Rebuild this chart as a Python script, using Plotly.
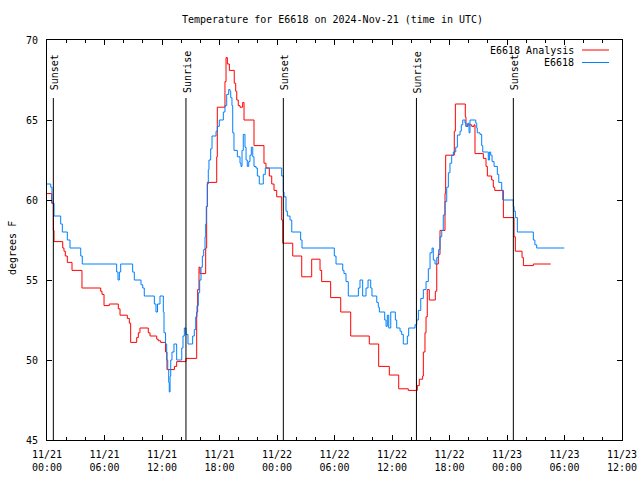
import pandas as pd
import plotly.graph_objects as go

# ---- data (hours since 2024-11-21 00:00 UTC, degrees F) ----
obs_hours = [0, 0.39, 0.52, 0.73, 1.43, 1.6, 2.12, 2.4, 3.52, 3.68,
             7.27, 7.41, 7.55, 7.69, 8.94, 9.11, 9.81, 9.99, 10.15, 11.2,
             11.37, 11.53, 11.79, 12.14, 12.21, 12.37, 12.49, 12.6, 12.7, 12.76,
             12.84, 12.91, 13.04, 13.25, 13.53, 14.06, 14.19, 14.33, 14.5, 14.71,
             15.2, 15.37, 15.52, 15.65, 15.79, 15.93, 16.07, 16.21, 16.35, 16.49,
             16.56, 16.62, 16.73, 16.83, 16.9, 17.08, 17.22, 17.64, 17.77, 17.98,
             18.4, 18.57, 18.75, 18.96, 19.1, 19.17, 19.3, 19.38, 19.51, 19.86,
             20.14, 20.24, 20.35, 20.48, 20.66, 20.77, 20.9, 21.05, 21.18, 21.32,
             21.47, 21.6, 21.81, 21.95, 22.15, 22.57, 22.78, 24.49, 24.66, 24.73,
             24.94, 25.08, 25.36, 25.54, 26.47, 26.61, 29.98, 30.16, 30.86, 30.99,
             31.2, 31.44, 32.49, 32.66, 32.94, 33.29, 33.5, 33.78, 33.91, 34.41,
             34.57, 34.68, 35.24, 35.38, 35.51, 35.66, 35.87, 36.35, 36.49, 36.84,
             37.01, 37.18, 37.6, 37.74, 38.4, 38.58, 38.75, 39.0, 39.27, 39.55,
             39.79, 39.97, 40.18, 40.31, 40.49, 40.67, 40.87, 41.01, 41.19, 41.35,
             41.53, 41.71, 41.88, 42.05, 42.23, 42.4, 42.65, 42.82, 43.1, 43.23,
             43.38, 43.62, 43.72, 43.9, 44.04, 44.14, 44.74, 44.84, 44.9, 45.18,
             45.36, 45.47, 45.95, 46.05, 46.16, 46.3, 46.44, 46.65, 46.99, 47.14,
             47.45, 47.55, 48.66, 48.73, 48.87, 49.08, 50.75, 50.91, 51.1, 53.98]
obs_temp = [61.0, 60.8, 59.8, 59.0, 58.5, 58.0, 57.5, 57.0, 56.5, 56.0,
            55.5, 55.0, 55.5, 56.0, 55.5, 55.0, 54.7, 54.5, 54.0, 53.5,
            53.0, 53.5, 54.0, 53.0, 51.7, 51.0, 50.0, 49.4, 48.6, 48.0,
            49.0, 50.0, 50.5, 51.0, 50.0, 50.75, 51.5, 52.0, 51.6, 51.0,
            51.5, 51.9, 52.7, 53.4, 54.2, 55.0, 55.8, 56.5, 56.9, 57.7,
            58.5, 59.6, 61.0, 61.9, 62.5, 63.2, 64.0, 64.3, 64.6, 65.0,
            65.5, 65.9, 66.6, 66.9, 66.8, 66.4, 65.9, 64.2, 63.1, 62.7,
            62.3, 62.1, 63.1, 64.1, 63.3, 62.5, 62.1, 62.4, 62.8, 63.3,
            62.7, 62.1, 62.0, 61.5, 61.0, 61.6, 62.0, 61.5, 60.5, 60.2,
            59.3, 59.0, 58.75, 58.0, 57.5, 57.0, 56.5, 56.0, 55.6, 55.4,
            54.9, 54.0, 54.5, 55.0, 54.0, 54.5, 55.0, 54.5, 54.0, 53.6,
            53.3, 53.0, 52.5, 52.1, 52.8, 52.0, 53.0, 52.5, 52.0, 51.8,
            51.6, 51.0, 51.5, 52.0, 52.2, 52.5, 53.1, 53.85, 54.4, 54.9,
            55.7, 56.7, 57.0, 56.25, 56.0, 56.4, 56.9, 57.7, 58.1, 59.06,
            59.9, 60.8, 61.7, 62.3, 62.8, 63.0, 63.3, 64.06, 64.3, 64.7,
            65.0, 64.8, 64.6, 64.8, 64.2, 65.0, 64.8, 64.5, 64.2, 64.1,
            63.4, 63.0, 63.0, 62.5, 63.0, 62.8, 62.4, 62.1, 61.6, 61.1,
            60.6, 60.0, 59.6, 59.3, 58.9, 58.0, 57.5, 57.2, 57.0, 57.0]

ana_hours = [0, 0.49, 0.66, 0.73, 1.64, 1.77, 1.91, 2.12, 2.61, 3.65,
             5.6, 5.74, 5.95, 6.5, 7.44, 7.62, 8.38, 8.59, 8.73, 9.36,
             9.53, 9.7, 10.57, 10.75, 11.45, 11.61, 11.86, 12.37, 12.52, 13.3,
             13.53, 14.5, 15.62, 15.72, 15.86, 15.97, 16.56, 16.66, 16.73, 17.71,
             17.77, 18.57, 18.68, 18.82, 19.03, 19.54, 19.69, 19.8, 19.96, 20.14,
             20.42, 20.56, 21.6, 22.64, 22.85, 23.2, 23.45, 23.69, 23.97, 24.49,
             24.6, 25.64, 26.58, 27.62, 28.49, 28.66, 29.6, 30.65, 31.69, 33.63,
             34.61, 35.72, 36.7, 37.7, 38.64, 38.85, 39.2, 39.27, 39.44, 39.55,
             39.68, 39.89, 40.52, 40.67, 40.83, 41.01, 41.53, 41.6, 42.5, 42.61,
             43.65, 43.72, 43.9, 44.32, 44.56, 44.66, 45.53, 45.81, 45.95, 46.4,
             46.57, 46.72, 47.62, 48.73, 48.87, 49.57, 49.71, 50.75, 52.56]
ana_temp = [60.4, 59.8, 58.1, 57.4, 57.0, 56.8, 56.5, 56.1, 55.6, 54.5,
            54.3, 54.1, 53.4, 53.5, 53.2, 52.8, 52.6, 52.3, 51.1, 51.4,
            51.7, 52.0, 51.7, 51.5, 51.3, 51.2, 51.1, 50.5, 49.4, 49.6,
            49.9, 50.1, 53.0, 54.4, 55.8, 55.4, 57.0, 59.6, 61.1, 62.7,
            65.8, 67.4, 68.9, 68.5, 68.1, 67.3, 66.8, 66.25, 65.9, 65.8,
            66.1, 65.0, 63.4, 62.3, 62.0, 61.5, 61.0, 60.6, 60.2, 58.75,
            57.3, 56.5, 55.2, 56.3, 55.6, 54.9, 53.9, 53.0, 51.5, 51.0,
            49.6, 49.06, 48.2, 48.1, 48.4, 48.8, 49.0, 50.5, 51.7, 52.7,
            54.4, 53.75, 54.3, 56.0, 56.6, 58.1, 60.4, 62.8, 64.3, 66.0,
            65.2, 64.6, 64.7, 64.6, 64.7, 62.9, 62.6, 62.1, 61.5, 61.25,
            60.8, 60.6, 58.9, 57.7, 56.8, 56.4, 55.9, 56.0, 56.0]

sun_hours = [0.66, 14.5, 24.66, 38.55, 48.66]
sun_labels = ["Sunset", "Sunrise", "Sunset", "Sunrise", "Sunset"]

series_names = ["E6618 Analysis", "E6618"]
series_colors = ["#ff0000", "#0080ff"]

base = pd.Timestamp("2024-11-21 00:00")
to_time = lambda hrs: [base + pd.Timedelta(hours=h) for h in hrs]

FONT = "DejaVu Sans Mono"

W, H = 640, 480
L, T = 47, 40
pw, ph = 575, 400
R, B = W - L - pw, H - T - ph
px = lambda x: (x - L) / pw
py = lambda y: (T + ph - y) / ph

fig = go.Figure()
fig.add_trace(go.Scatter(x=to_time(ana_hours), y=ana_temp, mode="lines",
                         line=dict(color=series_colors[0], width=1, shape="hv"),
                         name=series_names[0], showlegend=False))
fig.add_trace(go.Scatter(x=to_time(obs_hours), y=obs_temp, mode="lines",
                         line=dict(color=series_colors[1], width=1, shape="hv"),
                         name=series_names[1], showlegend=False))

# sunrise / sunset markers
for h, lab in zip(sun_hours, sun_labels):
    t = base + pd.Timedelta(hours=h)
    fig.add_shape(type="line", xref="x", yref="y domain", x0=t, x1=t, y0=0, y1=0.855,
                  line=dict(color="black", width=1), layer="above")
    fig.add_annotation(x=t, xref="x", y=py(72), yref="paper", text=lab, textangle=-90,
                       showarrow=False, xanchor="center", yanchor="middle", xshift=2,
                       font=dict(family=FONT, size=10, color="black"))

# legend (gnuplot style: text right, sample to the right)
for i, (nm, col) in enumerate(zip(series_names, series_colors)):
    yy = 50 + i * 12.5
    fig.add_annotation(x=px(576), y=py(yy), xref="paper", yref="paper", text=nm,
                       showarrow=False, xanchor="right", yanchor="middle",
                       font=dict(family=FONT, size=10, color="black"))
    fig.add_shape(type="line", xref="paper", yref="paper", x0=px(582), x1=px(609),
                  y0=py(yy), y1=py(yy), line=dict(color=col, width=1))

# title and y label
fig.add_annotation(x=px(332), y=py(20), xref="paper", yref="paper",
                   text="Temperature for E6618 on 2024-Nov-21 (time in UTC)",
                   showarrow=False, xanchor="center", yanchor="middle",
                   font=dict(family=FONT, size=10, color="black"))
fig.add_annotation(x=px(12), y=py(248), xref="paper", yref="paper", text="degrees F",
                   textangle=-90, showarrow=False, xanchor="center", yanchor="middle",
                   font=dict(family=FONT, size=10, color="black"))

fig.update_layout(
    width=W, height=H, margin=dict(l=L, r=R, t=T, b=B, autoexpand=False),
    paper_bgcolor="white", plot_bgcolor="white",
    font=dict(family=FONT, size=10, color="black"),
    showlegend=False,
)
fig.update_xaxes(
    range=[base, base + pd.Timedelta(hours=60)], type="date", automargin=False,
    tick0=base, dtick=6 * 3600 * 1000, tickformat="%m/%d<br>%H:%M",
    ticks="inside", ticklen=5, tickcolor="black", showline=True, linecolor="black",
    linewidth=1, mirror="ticks", showgrid=False, zeroline=False, ticklabelstandoff=5,
    minor=dict(dtick=2 * 3600 * 1000, ticks="inside", ticklen=3, tickcolor="black", showgrid=False),
    tickfont=dict(family=FONT, size=10, color="black"),
)
fig.update_yaxes(
    range=[45, 70], dtick=5, ticks="inside", ticklen=5, tickcolor="black", automargin=False,
    showline=True, linecolor="black", linewidth=1, mirror="ticks",
    showgrid=False, zeroline=False, ticklabelstandoff=6,
    tickfont=dict(family=FONT, size=10, color="black"),
)

fig.write_html(
    "out.html", config={"displayModeBar": False},
    post_script="document.body.style.margin='0';document.body.style.padding='0';"
                "document.body.style.overflow='hidden';",
)
